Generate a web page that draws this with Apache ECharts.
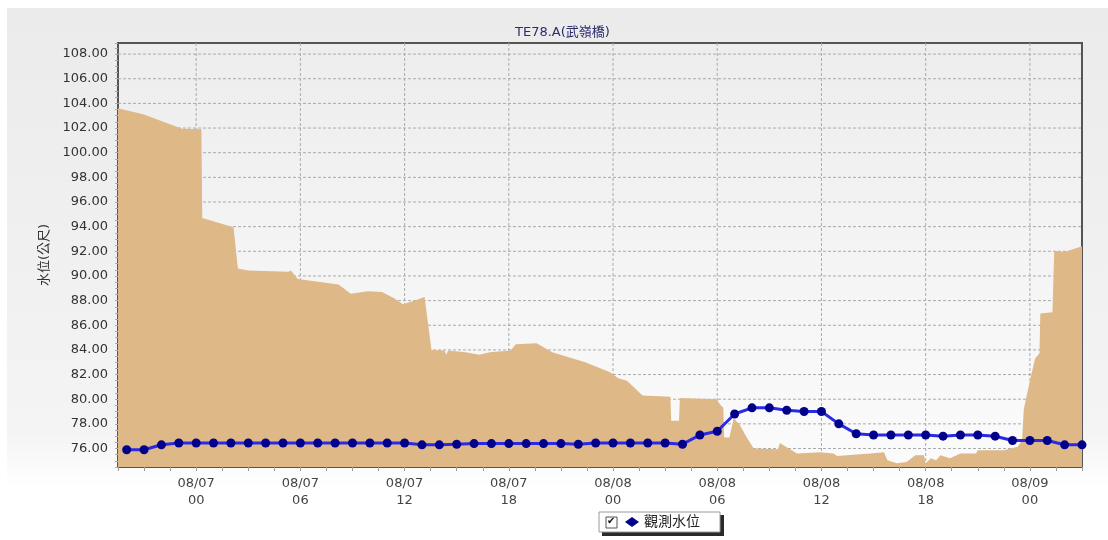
<!DOCTYPE html>
<html><head><meta charset="utf-8">
<script src="https://cdn.jsdelivr.net/npm/echarts@6/dist/echarts.min.js"></script>
<style>html,body{margin:0;padding:0;background:#fff}#c{width:1108px;height:540px}</style>
</head><body><div id="c"></div>
<script>
// ---- data ----
const titleText = 'TE78.A(武嶺橋)';
const yAxisName = '水位(公尺)';
const seriesName = '觀測水位';
// hours relative to 08/07 00:00
const obsHours = [-4,-3,-2,-1,0,1,2,3,4,5,6,7,8,9,10,11,12,13,14,15,16,17,18,19,20,21,22,23,24,25,26,27,28,29,30,31,32,33,34,35,36,37,38,39,40,41,42,43,44,45,46,47,48,49,50,51];
const obsLevels = [75.9,75.9,76.3,76.45,76.45,76.45,76.45,76.45,76.45,76.45,76.45,76.45,76.45,76.45,76.45,76.45,76.45,76.3,76.3,76.35,76.4,76.4,76.4,76.4,76.4,76.4,76.35,76.45,76.45,76.45,76.45,76.45,76.35,77.1,77.4,78.8,79.3,79.3,79.1,79.0,79.0,78.0,77.2,77.1,77.1,77.1,77.1,77.0,77.1,77.1,77.0,76.65,76.65,76.65,76.3,76.3];
const areaHours = [-4.5,-3.0,-1.4,-0.8,0.3,0.35,2.15,2.4,3.0,5.3,5.45,5.85,8.2,8.9,9.9,10.7,11.4,11.9,12.6,13.15,13.55,14.3,14.4,14.5,15.5,16.3,16.9,18.1,18.4,19.6,20.5,22.4,23.8,24.3,24.8,25.7,27.3,27.35,27.8,27.85,29.95,30.2,30.35,30.4,30.7,30.95,31.3,31.7,32.1,33.5,33.6,34.0,34.6,35.9,36.7,36.9,38.8,39.6,39.8,40.35,40.9,41.4,41.9,42.0,42.3,42.6,42.85,43.4,44.0,44.9,45.0,46.5,47.3,47.55,47.65,48.05,48.3,48.55,48.6,49.3,49.4,50.0,51.0];
const areaLevels = [103.6,103.1,102.25,101.95,101.9,94.7,93.95,90.6,90.45,90.35,90.45,89.75,89.3,88.55,88.75,88.7,88.2,87.7,88.0,88.3,84.0,83.95,83.6,83.95,83.8,83.6,83.8,83.95,84.45,84.55,83.8,83.0,82.2,81.7,81.5,80.3,80.2,78.25,78.25,80.1,80.0,79.5,79.3,76.9,76.9,78.45,77.9,76.9,76.0,75.95,76.45,76.1,75.6,75.7,75.6,75.4,75.6,75.7,75.05,74.8,74.9,75.45,75.45,74.8,75.2,75.05,75.45,75.2,75.6,75.6,75.85,75.85,76.15,76.7,79.2,81.8,83.3,83.7,86.95,87.05,92.05,91.95,92.4];
const xTickHours = [0,6,12,18,24,30,36,42,48];
const xTickLabels = ['08/07\n00','08/07\n06','08/07\n12','08/07\n18','08/08\n00','08/08\n06','08/08\n12','08/08\n18','08/09\n00'];
const yTickValues = [76,78,80,82,84,86,88,90,92,94,96,98,100,102,104,106,108];

// ---- chart ----
const FONT = '"DejaVu Sans", "Noto Sans CJK TC", sans-serif';
const chart = echarts.init(document.getElementById('c'), null, {renderer: 'canvas'});
const gridLineStyle = {stroke: '#ababab', lineWidth: 1, lineDash: [3, 2]};

function gridRenderer(isVertical) {
  return function (params, api) {
    const cs = params.coordSys;
    const v = api.value(0);
    let shape;
    if (isVertical) {
      const x = api.coord([v, 90])[0];
      shape = {x1: x, y1: cs.y, x2: x, y2: cs.y + cs.height};
    } else {
      const y = api.coord([10, v])[1];
      shape = {x1: cs.x, y1: y, x2: cs.x + cs.width, y2: y};
    }
    return {type: 'line', shape: echarts.graphic.subPixelOptimizeLine ? shape : shape, style: gridLineStyle, silent: true};
  };
}

const option = {
  animation: false,
  backgroundColor: '#ffffff',
  textStyle: {fontFamily: FONT},
  graphic: [
    {type: 'rect', z: -10, shape: {x: 7, y: 8, width: 1101, height: 532},
     style: {fill: new echarts.graphic.LinearGradient(0, 0, 0, 1, [
       {offset: 0, color: '#ebebeb'}, {offset: 0.8, color: '#f4f4f4'},
       {offset: 0.9, color: '#ffffff'}, {offset: 1, color: '#ffffff'}])}},
    {type: 'rect', z: 1, shape: {x: 602, y: 515, width: 122, height: 21}, style: {fill: '#2a2a2a'}},
    {type: 'rect', z: 2, shape: {x: 599, y: 512, width: 121, height: 20}, style: {fill: '#ffffff', stroke: '#9a9a9a', lineWidth: 1}},
    {type: 'rect', z: 3, shape: {x: 606, y: 517, width: 11, height: 11}, style: {fill: '#ffffff', stroke: '#555', lineWidth: 1}},
    {type: 'text', z: 3, left: 607, top: 516, style: {text: '✔', font: '10px "DejaVu Sans"', fill: '#111'}}
  ],
  title: {
    text: titleText, left: 510, top: 21,
    textStyle: {fontSize: 13, fontWeight: 'normal', color: '#2d2d6e', fontFamily: FONT}
  },
  legend: {
    data: [seriesName], left: 625, top: 515, padding: 0,
    icon: 'diamond', itemWidth: 14, itemHeight: 10, itemGap: 5,
    selectedMode: false,
    textStyle: {fontSize: 14, color: '#222', fontFamily: FONT}
  },
  grid: {
    left: 118, right: 26, top: 43, bottom: 73, show: true,
    backgroundColor: new echarts.graphic.LinearGradient(0, 0, 0, 1, [
      {offset: 0, color: '#ededed'}, {offset: 1, color: '#fbfbfb'}]),
    borderColor: '#555', borderWidth: 2
  },
  xAxis: {
    type: 'value', min: -4.5, max: 51, interval: 1.5,
    axisLine: {show: true, onZero: false, lineStyle: {color: '#555', width: 2}},
    axisTick: {show: true, length: 4, lineStyle: {color: '#999'}},
    axisLabel: {
      color: '#444', fontSize: 13, lineHeight: 17, margin: 8, fontFamily: FONT,
      formatter: function (v) {
        for (let i = 0; i < xTickHours.length; i++) if (Math.abs(xTickHours[i] - v) < 1e-6) return xTickLabels[i];
        return '';
      }
    },
    splitLine: {show: false}
  },
  yAxis: {
    type: 'value', min: 74.5, max: 108.9, interval: 0.5,
    name: yAxisName, nameLocation: 'middle', nameGap: 66, nameRotate: 90,
    nameTextStyle: {fontSize: 13, color: '#333', fontFamily: FONT},
    axisLine: {show: true, onZero: false, lineStyle: {color: '#555', width: 2}},
    axisTick: {show: true, length: 3, lineStyle: {color: '#aaa'}},
    axisLabel: {
      color: '#333', fontSize: 13, margin: 10, fontFamily: FONT,
      formatter: function (v) {
        for (let i = 0; i < yTickValues.length; i++) if (Math.abs(yTickValues[i] - v) < 1e-6) return v.toFixed(2);
        return '';
      }
    },
    splitLine: {show: false}
  },
  series: [
    {
      name: 'vgrid', type: 'custom', z: 1, silent: true, clip: true,
      data: xTickHours.map(h => [h]),
      encode: {x: 0},
      renderItem: gridRenderer(true)
    },
    {
      name: 'hgrid', type: 'custom', z: 1, silent: true, clip: true,
      data: yTickValues.map(v => [v]),
      encode: {y: 0},
      renderItem: gridRenderer(false)
    },
    {
      name: 'area', type: 'line', z: 3, silent: true,
      data: areaHours.map((h, i) => [h, areaLevels[i]]),
      symbol: 'none', showSymbol: false,
      lineStyle: {width: 0, opacity: 0},
      itemStyle: {color: '#deb887'},
      areaStyle: {color: '#deb887', opacity: 1, origin: 'start'}
    },
    {
      name: seriesName, type: 'line', z: 5,
      data: obsHours.map((h, i) => [h, obsLevels[i]]),
      symbol: 'circle', symbolSize: 9,
      itemStyle: {color: '#00008b'},
      lineStyle: {color: '#2a2ae6', width: 3}
    }
  ]
};
chart.setOption(option);
</script>
</body></html>
